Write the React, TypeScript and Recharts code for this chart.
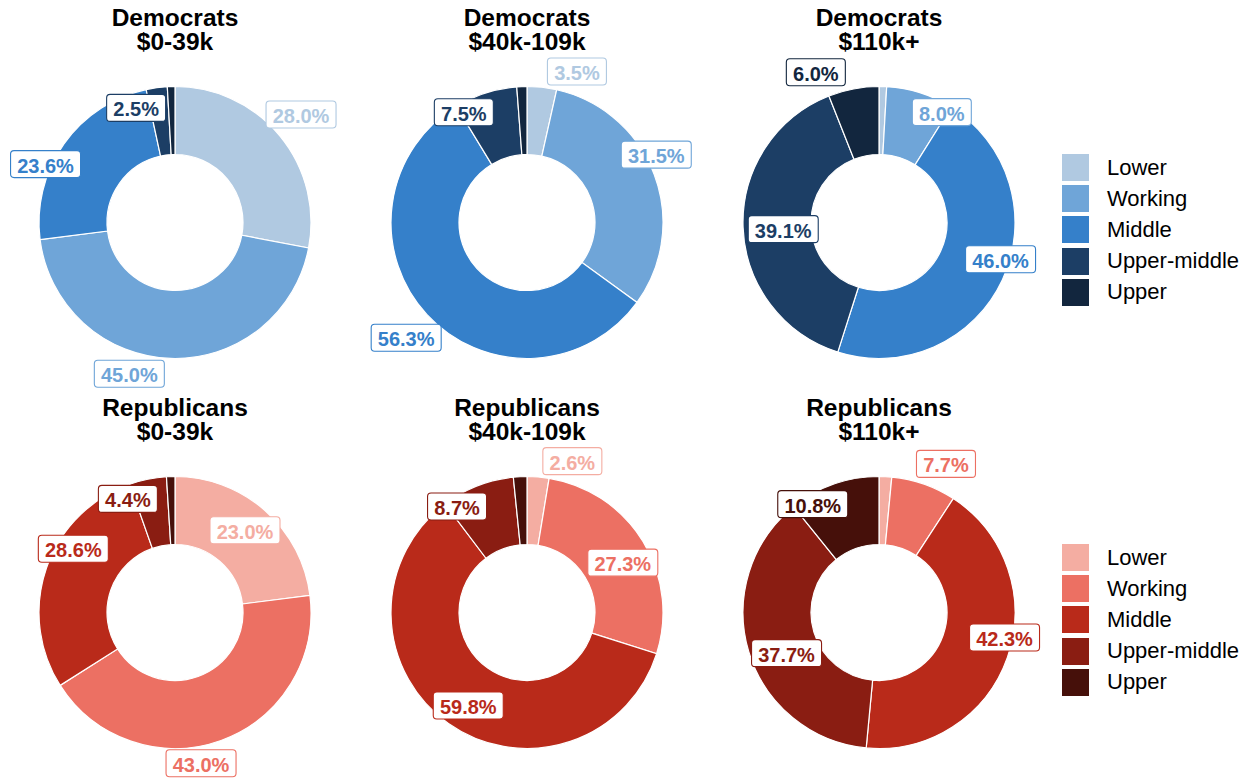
import React from "react"
import { PieChart, Pie, Cell, Legend } from "recharts"

const CLASSES = ["Lower", "Working", "Middle", "Upper-middle", "Upper"]
const INCOMES = ["$0-39k", "$40k-109k", "$110k+"]
const PARTIES = ["Democrats", "Republicans"]

// share of each class (%) within party x income group
const DEM_LOW = [28.0, 45.0, 23.6, 2.5, 0.9]
const DEM_MID = [3.5, 31.5, 56.3, 7.5, 1.2]
const DEM_HIGH = [0.9, 8.0, 46.0, 39.1, 6.0]
const REP_LOW = [23.0, 43.0, 28.6, 4.4, 1.0]
const REP_MID = [2.6, 27.3, 59.8, 8.7, 1.6]
const REP_HIGH = [1.5, 7.7, 42.3, 37.7, 10.8]

const SERIES = [
  [DEM_LOW, DEM_MID, DEM_HIGH],
  [REP_LOW, REP_MID, REP_HIGH],
]

const BLUES = ["#b0c9e1", "#6fa5d8", "#3580ca", "#1c3e65", "#12263e"]
const REDS = ["#f4ada2", "#ec7063", "#b92a1a", "#8a1d12", "#46100a"]
const PALETTES = [BLUES, REDS]

// repel-style nudges for the labels: [angle shift (deg), distance from centre]
type Nudge = [number, number] | null
const NUDGES: Nudge[][][] = [
  [
    [[-1, 166], [15, 158], [-11, 142], [-11, 121], null],
    [[12, 159], [-7, 146], [-1, 167], [-12, 127], null],
    [null, [12, 127], [-8, 127], [-2, 96], [-12, 163]],
  ],
  [
    [[-1, 108], [10, 153], [13, 120], [-11, 123], null],
    [[12, 158], [4, 108], [-3, 110], [-12, 127], null],
    [null, [5, 163], [-8, 128], [-7, 101], [-12, 127]],
  ],
]

const FONT = "'Liberation Sans', Arial, sans-serif"
const CELL_W = 352
const ROW_H = 390
const CX = 175
const CY = 222.5

function makeLabel(colors: string[], nudges: Nudge[]) {
  return (p: any) => {
    const n = nudges[p.index]
    if (!n) return null
    const theta = ((90 - p.midAngle + n[0]) * Math.PI) / 180
    const x = p.cx + n[1] * Math.sin(theta)
    const y = p.cy - n[1] * Math.cos(theta)
    const text = `${Number(p.value).toFixed(1)}%`
    const w = 15 + 11 * text.length
    const c = colors[p.index]
    return (
      <g key={`lbl-${p.index}`}>
        <rect x={x - w / 2} y={y - 13.5} width={w} height={27} rx={3.5} fill="#ffffff" stroke={c} strokeWidth={1.1} />
        <text
          x={x}
          y={y + 1.5}
          textAnchor="middle"
          dominantBaseline="central"
          fontSize={20}
          fontWeight="bold"
          fontFamily={FONT}
          fill={c}
        >
          {text}
        </text>
      </g>
    )
  }
}

const renderLegend = (props: any) => {
  const items = [...(props.payload || [])].sort(
    (a: any, b: any) => CLASSES.indexOf(a.value) - CLASSES.indexOf(b.value)
  )
  return (
    <div style={{ fontFamily: FONT }}>
      {items.map((e: any, i: number) => (
        <div key={i} style={{ display: "flex", alignItems: "center", height: 27, marginBottom: 4.2 }}>
          <div style={{ width: 27, height: 27, background: e.color }} />
          <span style={{ marginLeft: 18, fontSize: 22, color: "#000", whiteSpace: "nowrap" }}>{e.value}</span>
        </div>
      ))}
    </div>
  )
}

function Donut({ row, col }: { row: number; col: number }) {
  const values = SERIES[row][col]
  const colors = PALETTES[row]
  const data = CLASSES.map((name, i) => ({ name, value: values[i] }))
  const left = col * CELL_W
  const withLegend = col === 2
  const width = withLegend ? 1255 - left : CELL_W
  return (
    <div style={{ position: "absolute", left, top: row * ROW_H, width, height: ROW_H }}>
      <div
        style={{
          position: "absolute",
          left: 0,
          top: 6,
          width: 2 * CX,
          textAlign: "center",
          fontFamily: FONT,
          fontWeight: "bold",
          fontSize: 24.5,
          lineHeight: "23.5px",
          color: "#000",
        }}
      >
        <div>{PARTIES[row]}</div>
        <div>{INCOMES[col]}</div>
      </div>
      <PieChart width={width} height={ROW_H} margin={{ top: 0, right: 0, bottom: 0, left: 0 }}>
        <Pie
          data={data}
          dataKey="value"
          nameKey="name"
          cx={CX}
          cy={CY}
          innerRadius={68}
          outerRadius={136}
          startAngle={90}
          endAngle={-270}
          stroke="#ffffff"
          strokeWidth={1.2}
          label={makeLabel(colors, NUDGES[row][col])}
          labelLine={false}
          isAnimationActive={false}
        >
          {data.map((d, i) => (
            <Cell key={d.name} fill={colors[i]} />
          ))}
        </Pie>
        {withLegend && (
          <Legend
            layout="vertical"
            align="right"
            verticalAlign="top"
            itemSorter={(item: any) => CLASSES.indexOf(item.value)}
            content={renderLegend}
            wrapperStyle={{ left: 1062 - left, top: 154, width: 200 }}
          />
        )}
      </PieChart>
    </div>
  )
}

export default function App() {
  return (
    <div style={{ position: "absolute", left: 0, top: 0, width: 1255, height: 779, background: "#ffffff" }}>
      {PARTIES.map((_, r) =>
        INCOMES.map((__, c) => <Donut key={`${r}-${c}`} row={r} col={c} />)
      )}
    </div>
  )
}
